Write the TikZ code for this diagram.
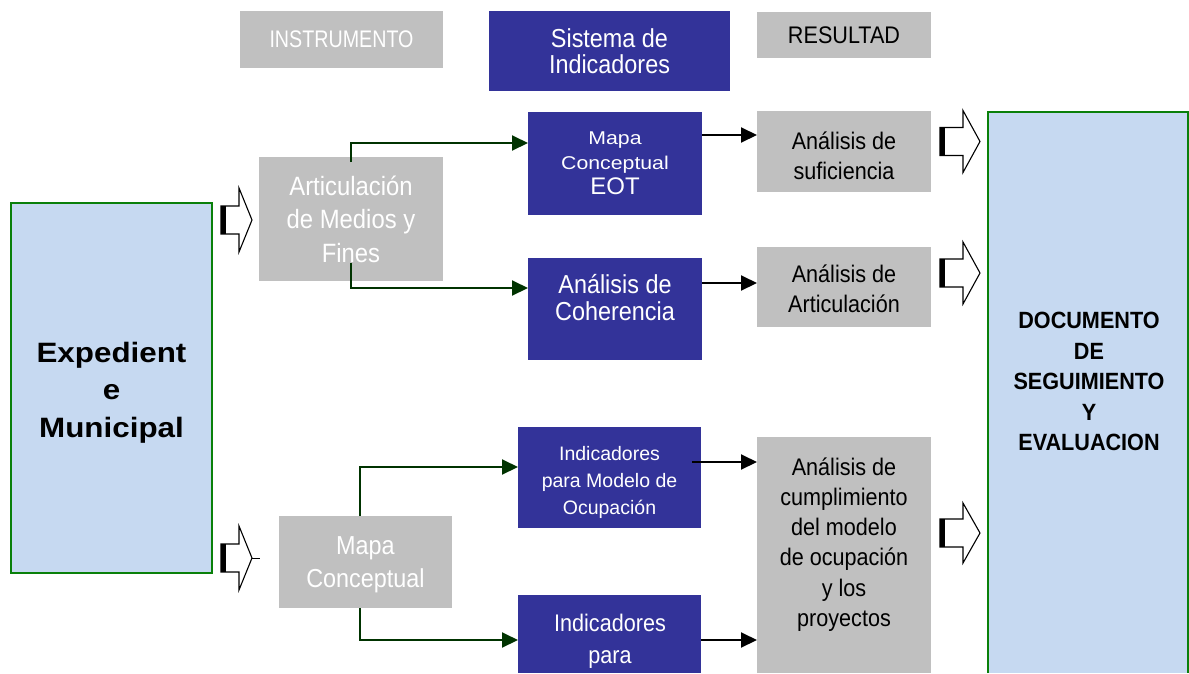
\documentclass[tikz,border=0pt]{standalone}
\usepackage{fontspec}
\setmainfont{Liberation Sans}
\newfontfamily\fnorm{Liberation Sans}[FakeStretch=0.9]
\newfontfamily\fnarrow{Liberation Sans}[FakeStretch=0.82]
\newfontfamily\fwide{Liberation Sans}[FakeStretch=1.15]
\newfontfamily\fbwide{Liberation Sans}[FakeStretch=1.12]
\newfontfamily\fbnarrow{Liberation Sans}[FakeStretch=0.92]
\usetikzlibrary{arrows.meta,calc}
\definecolor{navy}{HTML}{333399}
\definecolor{lgray}{HTML}{C0C0C0}
\definecolor{lblue}{HTML}{C6D9F1}
\definecolor{bgreen}{HTML}{0A800A}
\definecolor{dgreen}{HTML}{003300}
\newcommand\myblockarrow[6]{%
  \draw[line width=1.1pt, fill=white, line join=miter]
    (#1,#2-#5) -- (#1+#3,#2-#5) -- (#1+#3,#2-#6) -- (#1+#3+#4,#2)
    -- (#1+#3,#2+#6) -- (#1+#3,#2+#5) -- (#1,#2+#5) -- cycle;
  \fill[black] (#1,#2-#5) rectangle (#1+5,#2+#5);
}
\begin{document}
\begin{tikzpicture}[x=1pt,y=-1pt,
  box/.style={inner sep=0pt, outer sep=0pt, align=center},
  navybox/.style={box, fill=navy, text=white},
  graybox/.style={box, fill=lgray},
  bluebox/.style={box, fill=lblue, draw=bgreen, line width=1.5pt},
  txt/.style={inner sep=0pt, align=center},
  garrow/.style={draw=dgreen, line width=2pt, -{Triangle[length=16pt,width=15pt]}},
  karrow/.style={draw=black, line width=2pt, -{Triangle[length=16pt,width=15pt]}},
]
\useasboundingbox (0,0) rectangle (1189,673);
\fill[white] (0,0) rectangle (1189,673);

% header row
\node[graybox, minimum width=203pt, minimum height=57pt, text=white,
  font={\fnarrow\fontsize{24}{28}\selectfont}] (instr) at (341.5,39.5) {INSTRUMENTO};
\node[navybox, minimum width=241pt, minimum height=80pt,
  font={\fnorm\fontsize{26}{26}\selectfont}] (sist) at (609.5,51) {Sistema de\\Indicadores};
\node[graybox, minimum width=174pt, minimum height=46pt,
  font={\fnorm\fontsize{24}{28}\selectfont}] (resul) at (844,35) {RESULTAD};

% left
\node[bluebox, minimum width=201pt, minimum height=370pt] (exp) at (111.5,388) {};
\node[txt, font={\fbwide\bfseries\fontsize{28}{37.5}\selectfont}] (expT) at (111.5,392.5)
  {Expedient\\e\\Municipal};

% instrument column
\node[graybox, minimum width=184pt, minimum height=124pt, text=white,
  font={\fnorm\fontsize{26.5}{33.5}\selectfont}] (art) at (351,219) {Articulación\\de Medios y\\Fines};
\node[graybox, minimum width=173pt, minimum height=92pt] (mapaC) at (365.5,562) {};
\node[txt, text=white, font={\fnorm\fontsize{26}{33}\selectfont}] (mapaCT) at (365.5,565)
  {Mapa\\Conceptual};

% indicator column
\node[navybox, minimum width=174pt, minimum height=103pt,
  font={\fwide\fontsize{18.5}{25}\selectfont}] (mapaE) at (615,163.5)
  {Mapa\\Conceptual\\\rmfamily\fontsize{24}{25}\selectfont EOT};
\node[navybox, minimum width=174pt, minimum height=102pt] (coh) at (615,309) {};
\node[txt, text=white, font={\fnorm\fontsize{26}{27}\selectfont}] (cohT) at (615,297.5)
  {Análisis de\\Coherencia};
\node[navybox, minimum width=183pt, minimum height=101pt] (indM) at (609.5,477.5) {};
\node[txt, text=white, font={\fontsize{19.5}{27}\selectfont}] (indMT) at (609.5,482.5)
  {Indicadores\\para Modelo de\\Ocupación};
\node[navybox, minimum width=183pt, minimum height=78pt] (indP) at (609.5,634) {};
\node[txt, text=white, font={\fnorm\fontsize{24}{32}\selectfont}] (indPT) at (610,641)
  {Indicadores\\para};

% result column
\node[graybox, minimum width=174pt, minimum height=81pt] (suf) at (844,151.5) {};
\node[txt, font={\fnorm\fontsize{24}{30}\selectfont}] (sufT) at (844,155.5)
  {Análisis de\\suficiencia};
\node[graybox, minimum width=174pt, minimum height=80pt] (artR) at (844,287) {};
\node[txt, font={\fnorm\fontsize{24}{29.5}\selectfont}] (artRT) at (844,289)
  {Análisis de\\Articulación};
\node[graybox, minimum width=174pt, minimum height=236pt] (cump) at (844,555) {};
\node[txt, font={\fnorm\fontsize{24}{30.2}\selectfont}] (cumpT) at (844,544.5)
  {Análisis de\\cumplimiento\\del modelo\\de ocupación\\y los\\proyectos};

% document box (open at the bottom)
\node[box, fill=lblue, minimum width=200pt, minimum height=561pt] (doc) at (1088,392.5) {};
\draw[bgreen, line width=1.5pt] (doc.south west) -- (doc.north west) -- (doc.north east) -- (doc.south east);
\node[txt, font={\fbnarrow\bfseries\fontsize{23.5}{30.5}\selectfont}] (docT) at (1089,381.5)
  {DOCUMENTO\\DE\\SEGUIMIENTO\\Y\\EVALUACION};

% green connectors
\draw[garrow] ([yshift=-5pt]art.north) |- ([yshift=20.5pt]mapaE.west);
\draw[garrow] ([yshift=18pt]art.south) |- ([yshift=21pt]coh.west);
\draw[garrow] ([xshift=-5.5pt]mapaC.north) |- ([yshift=10.5pt]indM.west);
\draw[garrow] ([xshift=-5.5pt]mapaC.south) |- ([yshift=-6pt]indP.west);

% black connectors
\coordinate (k1) at ([yshift=28.5pt]mapaE.east);
\coordinate (k2) at ([yshift=26pt]coh.east);
\coordinate (k3) at ([xshift=-9pt,yshift=15.5pt]indM.east);
\coordinate (k4) at ([yshift=-6pt]indP.east);
\draw[karrow] (k1) -- (k1 -| suf.west);
\draw[karrow] (k2) -- (k2 -| artR.west);
\draw[karrow] (k3) -- (k3 -| cump.west);
\draw[karrow] (k4) -- (k4 -| cump.west);

% block arrows
\myblockarrow{221}{220}{18}{13}{14}{32}
\myblockarrow{221}{558}{18}{13}{14}{32}
\draw[line width=1pt] (252,558) -- (260,558);
\myblockarrow{940}{141.5}{23}{17}{14}{31}
\myblockarrow{940}{273}{23}{17}{14}{31}
\myblockarrow{940}{533}{23}{17}{14}{30}
\end{tikzpicture}
\end{document}
